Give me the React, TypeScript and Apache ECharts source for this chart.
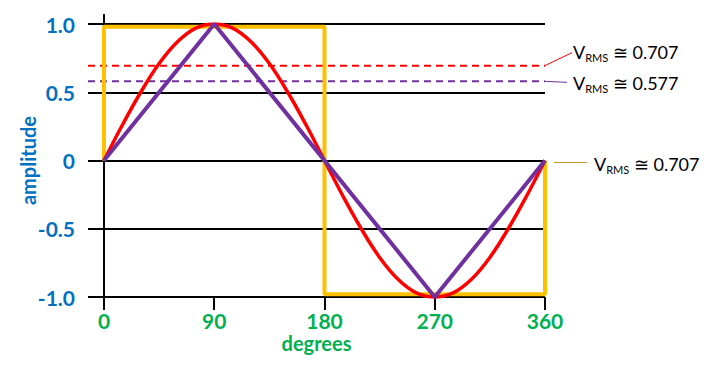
import React, { useEffect, useRef } from "react";
import * as echarts from "echarts";

const degrees = [0, 15, 30, 45, 60, 75, 90, 105, 120, 135, 150, 165, 180, 195, 210, 225, 240, 255, 270, 285, 300, 315, 330, 345, 360];
const sineValues = [0, 0.26, 0.5, 0.71, 0.87, 0.97, 1, 0.97, 0.87, 0.71, 0.5, 0.26, 0, -0.26, -0.5, -0.71, -0.87, -0.97, -1, -0.97, -0.87, -0.71, -0.5, -0.26, 0];
const triangleDegrees = [0, 90, 270, 360];
const triangleValues = [0, 1, -1, 0];
const squareDegrees = [0, 0, 180, 180, 360, 360];
const squareValues = [0, 0.98, 0.98, -0.98, -0.98, 0];
const rmsSine = 0.695;
const rmsTriangle = 0.58;
const rmsSquare = 0;
const rmsSineLabel = "0.707";
const rmsTriangleLabel = "0.577";
const rmsSquareLabel = "0.707";
const xTicks = [0, 90, 180, 270, 360];
const xMin = -13.06;
const xMax = 360;
const yTicks = [-1, -0.5, 0, 0.5, 1];
const yTickLabels = ["-1.0", "-0.5", "0", "0.5", "1.0"];

const FONT = "Lato, 'Open Sans', sans-serif";
const BLUE = "#0070C0";
const GREEN = "#00B050";
const RED = "#FF0000";
const PURPLE = "#7030A0";
const ORANGE = "#FFC000";
const ORANGE_TEXT = "#F9A23F";

function rmsText(value: string) {
  return `{v|V}{s|RMS}{v| \u2245 ${value}}`;
}

function richFor(color: string) {
  return {
    v: { fontFamily: FONT, fontSize: 18, color, lineHeight: 22, verticalAlign: "middle" },
    s: { fontFamily: FONT, fontSize: 11, color, lineHeight: 22, verticalAlign: "bottom" },
  };
}

export default function App() {
  const ref = useRef<HTMLDivElement>(null);
  useEffect(() => {
    if (!ref.current) return;
    const chart = echarts.init(ref.current, undefined, { renderer: "svg" });
    const pair = (xs: number[], ys: number[]) => xs.map((x, i) => [x, ys[i]]);
    chart.setOption({
      animation: false,
      backgroundColor: "#ffffff",
      grid: { left: 88, right: 162, top: 24, bottom: 77, containLabel: false, outerBoundsMode: "none" },
      xAxis: {
        type: "value",
        min: xMin,
        max: xMax,
        axisLine: { show: false, onZero: false },
        axisTick: { show: true, length: 13, lineStyle: { color: "#000", width: 2 }, customValues: xTicks },
        axisLabel: {
          customValues: xTicks,
          formatter: (v: number) => String(v),
          color: GREEN,
          fontFamily: FONT,
          fontWeight: "bold",
          fontSize: 21,
          margin: 13,
        },
        splitLine: { show: false },
        name: "degrees",
        nameLocation: "middle",
        nameGap: 36,
        nameMoveOverlap: false,
        nameTextStyle: { color: GREEN, fontFamily: FONT, fontWeight: "bold", fontSize: 20 },
      },
      yAxis: {
        type: "value",
        min: -1,
        max: 1,
        interval: 0.5,
        axisLine: { show: true, onZero: true, lineStyle: { color: "#000", width: 2 } },
        axisTick: { show: false },
        axisLabel: {
          formatter: (v: number) => {
            const i = yTicks.findIndex((t) => Math.abs(t - v) < 1e-9);
            return i >= 0 ? yTickLabels[i] : "";
          },
          color: BLUE,
          fontFamily: FONT,
          fontWeight: "bold",
          fontSize: 21,
          margin: 13,
        },
        splitLine: { show: true, lineStyle: { color: "#000", width: 2 } },
        name: "amplitude",
        nameLocation: "middle",
        nameGap: 50,
        nameMoveOverlap: false,
        nameRotate: 90,
        nameTextStyle: { color: BLUE, fontFamily: FONT, fontWeight: "bold", fontSize: 20 },
      },
      series: [
        {
          name: "rms sine",
          type: "line",
          data: [[xMin, rmsSine], [xMax, rmsSine]],
          symbol: "none",
          lineStyle: { color: RED, width: 2, type: [7, 5] },
          z: 1,
        },
        {
          name: "rms triangle",
          type: "line",
          data: [[xMin, rmsTriangle], [xMax, rmsTriangle]],
          symbol: "none",
          lineStyle: { color: PURPLE, width: 2, type: [7, 5] },
          z: 1,
        },
        {
          name: "square",
          type: "line",
          data: pair(squareDegrees, squareValues),
          symbol: "none",
          lineStyle: { color: ORANGE, width: 4 },
          z: 2,
        },
        {
          name: "sine",
          type: "line",
          data: pair(degrees, sineValues),
          symbol: "none",
          smooth: 0.4,
          lineStyle: { color: RED, width: 3.5 },
          z: 3,
        },
        {
          name: "triangle",
          type: "line",
          data: pair(triangleDegrees, triangleValues),
          symbol: "none",
          lineStyle: { color: PURPLE, width: 4 },
          z: 4,
        },
      ],
    });

    const px = (x: number, y: number) => chart.convertToPixel({ gridIndex: 0 }, [x, y]) as number[];
    const top = px(0, 1);
    const pSine = px(xMax, rmsSine);
    const pTri = px(xMax, rmsTriangle);
    const pSq = px(xMax, rmsSquare);
    chart.setOption({
      graphic: [
        { type: "line", shape: { x1: top[0], y1: top[1], x2: top[0], y2: top[1] - 10 }, style: { stroke: "#000", lineWidth: 2 } },
        { type: "line", shape: { x1: pSine[0], y1: pSine[1], x2: pSine[0] + 27, y2: pSine[1] - 13 }, style: { stroke: RED, lineWidth: 1 } },
        {
          type: "text",
          x: pSine[0] + 28,
          y: pSine[1] - 14,
          style: { text: rmsText(rmsSineLabel), rich: richFor(RED), verticalAlign: "middle", align: "left" },
        },
        { type: "line", shape: { x1: pTri[0], y1: pTri[1], x2: pTri[0] + 22, y2: pTri[1] + 1 }, style: { stroke: PURPLE, lineWidth: 1 } },
        {
          type: "text",
          x: pTri[0] + 28,
          y: pTri[1] + 2,
          style: { text: rmsText(rmsTriangleLabel), rich: richFor(PURPLE), verticalAlign: "middle", align: "left" },
        },
        { type: "line", shape: { x1: pSq[0] + 9, y1: pSq[1] + 2, x2: pSq[0] + 42, y2: pSq[1] + 2 }, style: { stroke: "#C8962A", lineWidth: 1 } },
        {
          type: "text",
          x: pSq[0] + 49,
          y: pSq[1] + 3,
          style: { text: rmsText(rmsSquareLabel), rich: richFor(ORANGE_TEXT), verticalAlign: "middle", align: "left" },
        },
      ],
    });
    return () => chart.dispose();
  }, []);
  return <div ref={ref} style={{ position: "fixed", left: 0, top: 0, width: 707, height: 374 }} />;
}
